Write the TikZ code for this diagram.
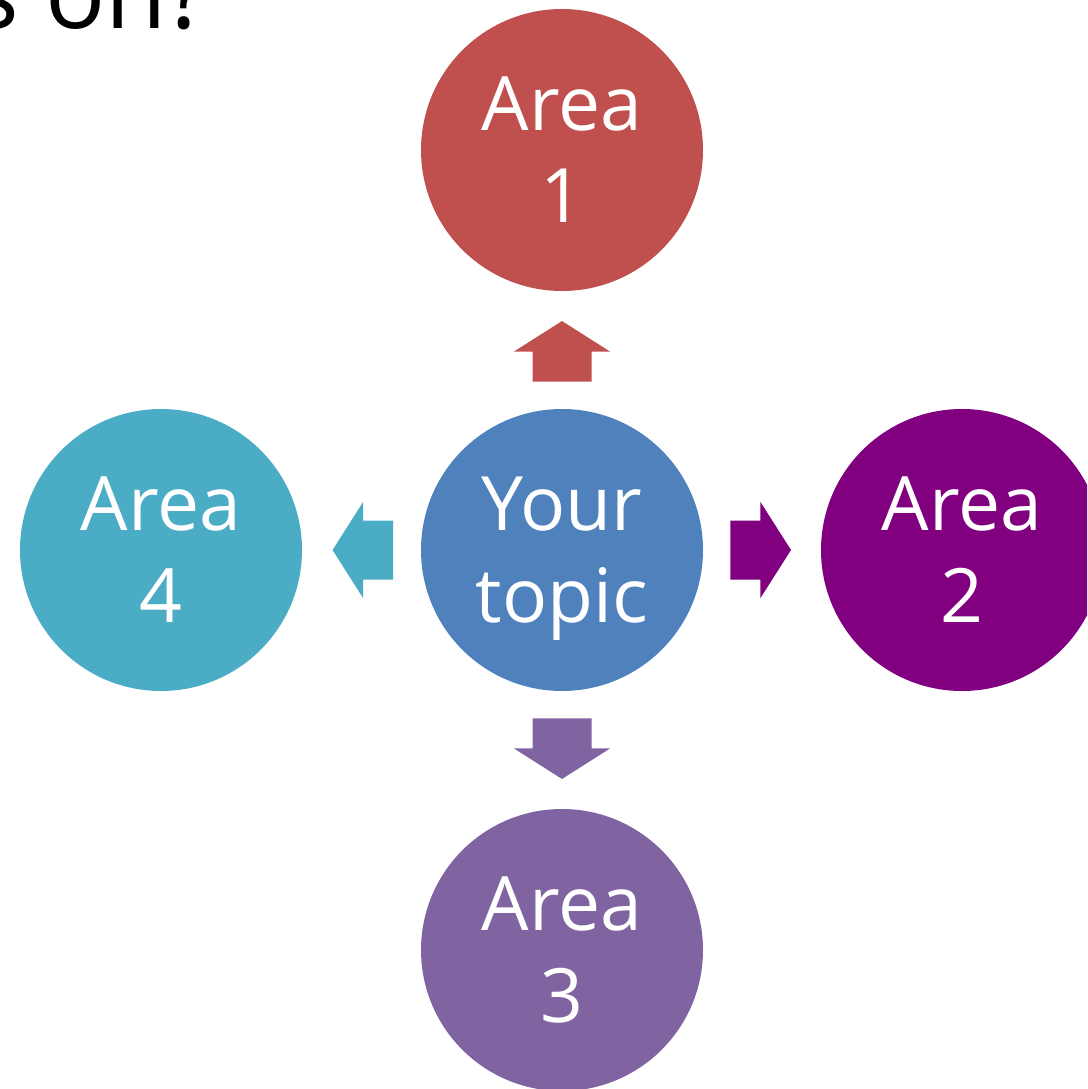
\documentclass[tikz,border=0pt]{standalone}
\usepackage{fontspec}
\setmainfont{Open Sans}
\usetikzlibrary{calc}
\definecolor{cRed}{HTML}{C0504D}
\definecolor{cBlue}{HTML}{4F81BD}
\definecolor{cPurple}{HTML}{800080}
\definecolor{cLilac}{HTML}{8064A2}
\definecolor{cTeal}{HTML}{4BACC6}
\tikzset{
  area/.style={circle, minimum size=282pt, inner sep=0pt, text=white,
    align=center, text depth=0pt, font=\fontsize{75}{92}\selectfont},
  blockarrow/.pic={
    \fill[pic actions] (-30,-29.5) -- (0,-29.5) -- (0,-48) -- (30.5,0)
      -- (0,48) -- (0,29.5) -- (-30,29.5) -- cycle;
  }
}
\begin{document}
\begin{tikzpicture}[x=1pt,y=-1pt]
\useasboundingbox (0,0) rectangle (1087,1089);
\clip (0,0) rectangle (1087,1089);

% heading, partly outside the frame
\node[anchor=base east, inner sep=0pt, font=\fontsize{100}{120}\selectfont] (title) at (210,29) {s on?};

% topic and its four areas
\node[area, fill=cBlue]   (c)  at (562,550) {Your\\topic};
\node[area, fill=cRed]    (a1) at (562,150) {Area\\1};
\node[area, fill=cPurple] (a2) at (962,550) {Area\\2};
\node[area, fill=cLilac]  (a3) at (562,950) {Area\\3};
\node[area, fill=cTeal]   (a4) at (161,550) {Area\\4};

% block arrows between the topic and each area
\coordinate (m1) at ($(c.north)!0.487!(a1.south)$);
\coordinate (m2) at ($(c.east)!0.487!(a2.west)$);
\coordinate (m3) at ($(c.south)!0.487!(a3.north)$);
\coordinate (m4) at ($(c.west)!0.487!(a4.east)$);
\pic[fill=cRed,    shift={(m1)}, rotate=90]  {blockarrow};
\pic[fill=cPurple, shift={(m2)}]             {blockarrow};
\pic[fill=cLilac,  shift={(m3)}, rotate=-90] {blockarrow};
\pic[fill=cTeal,   shift={(m4)}, rotate=180] {blockarrow};
\end{tikzpicture}
\end{document}
